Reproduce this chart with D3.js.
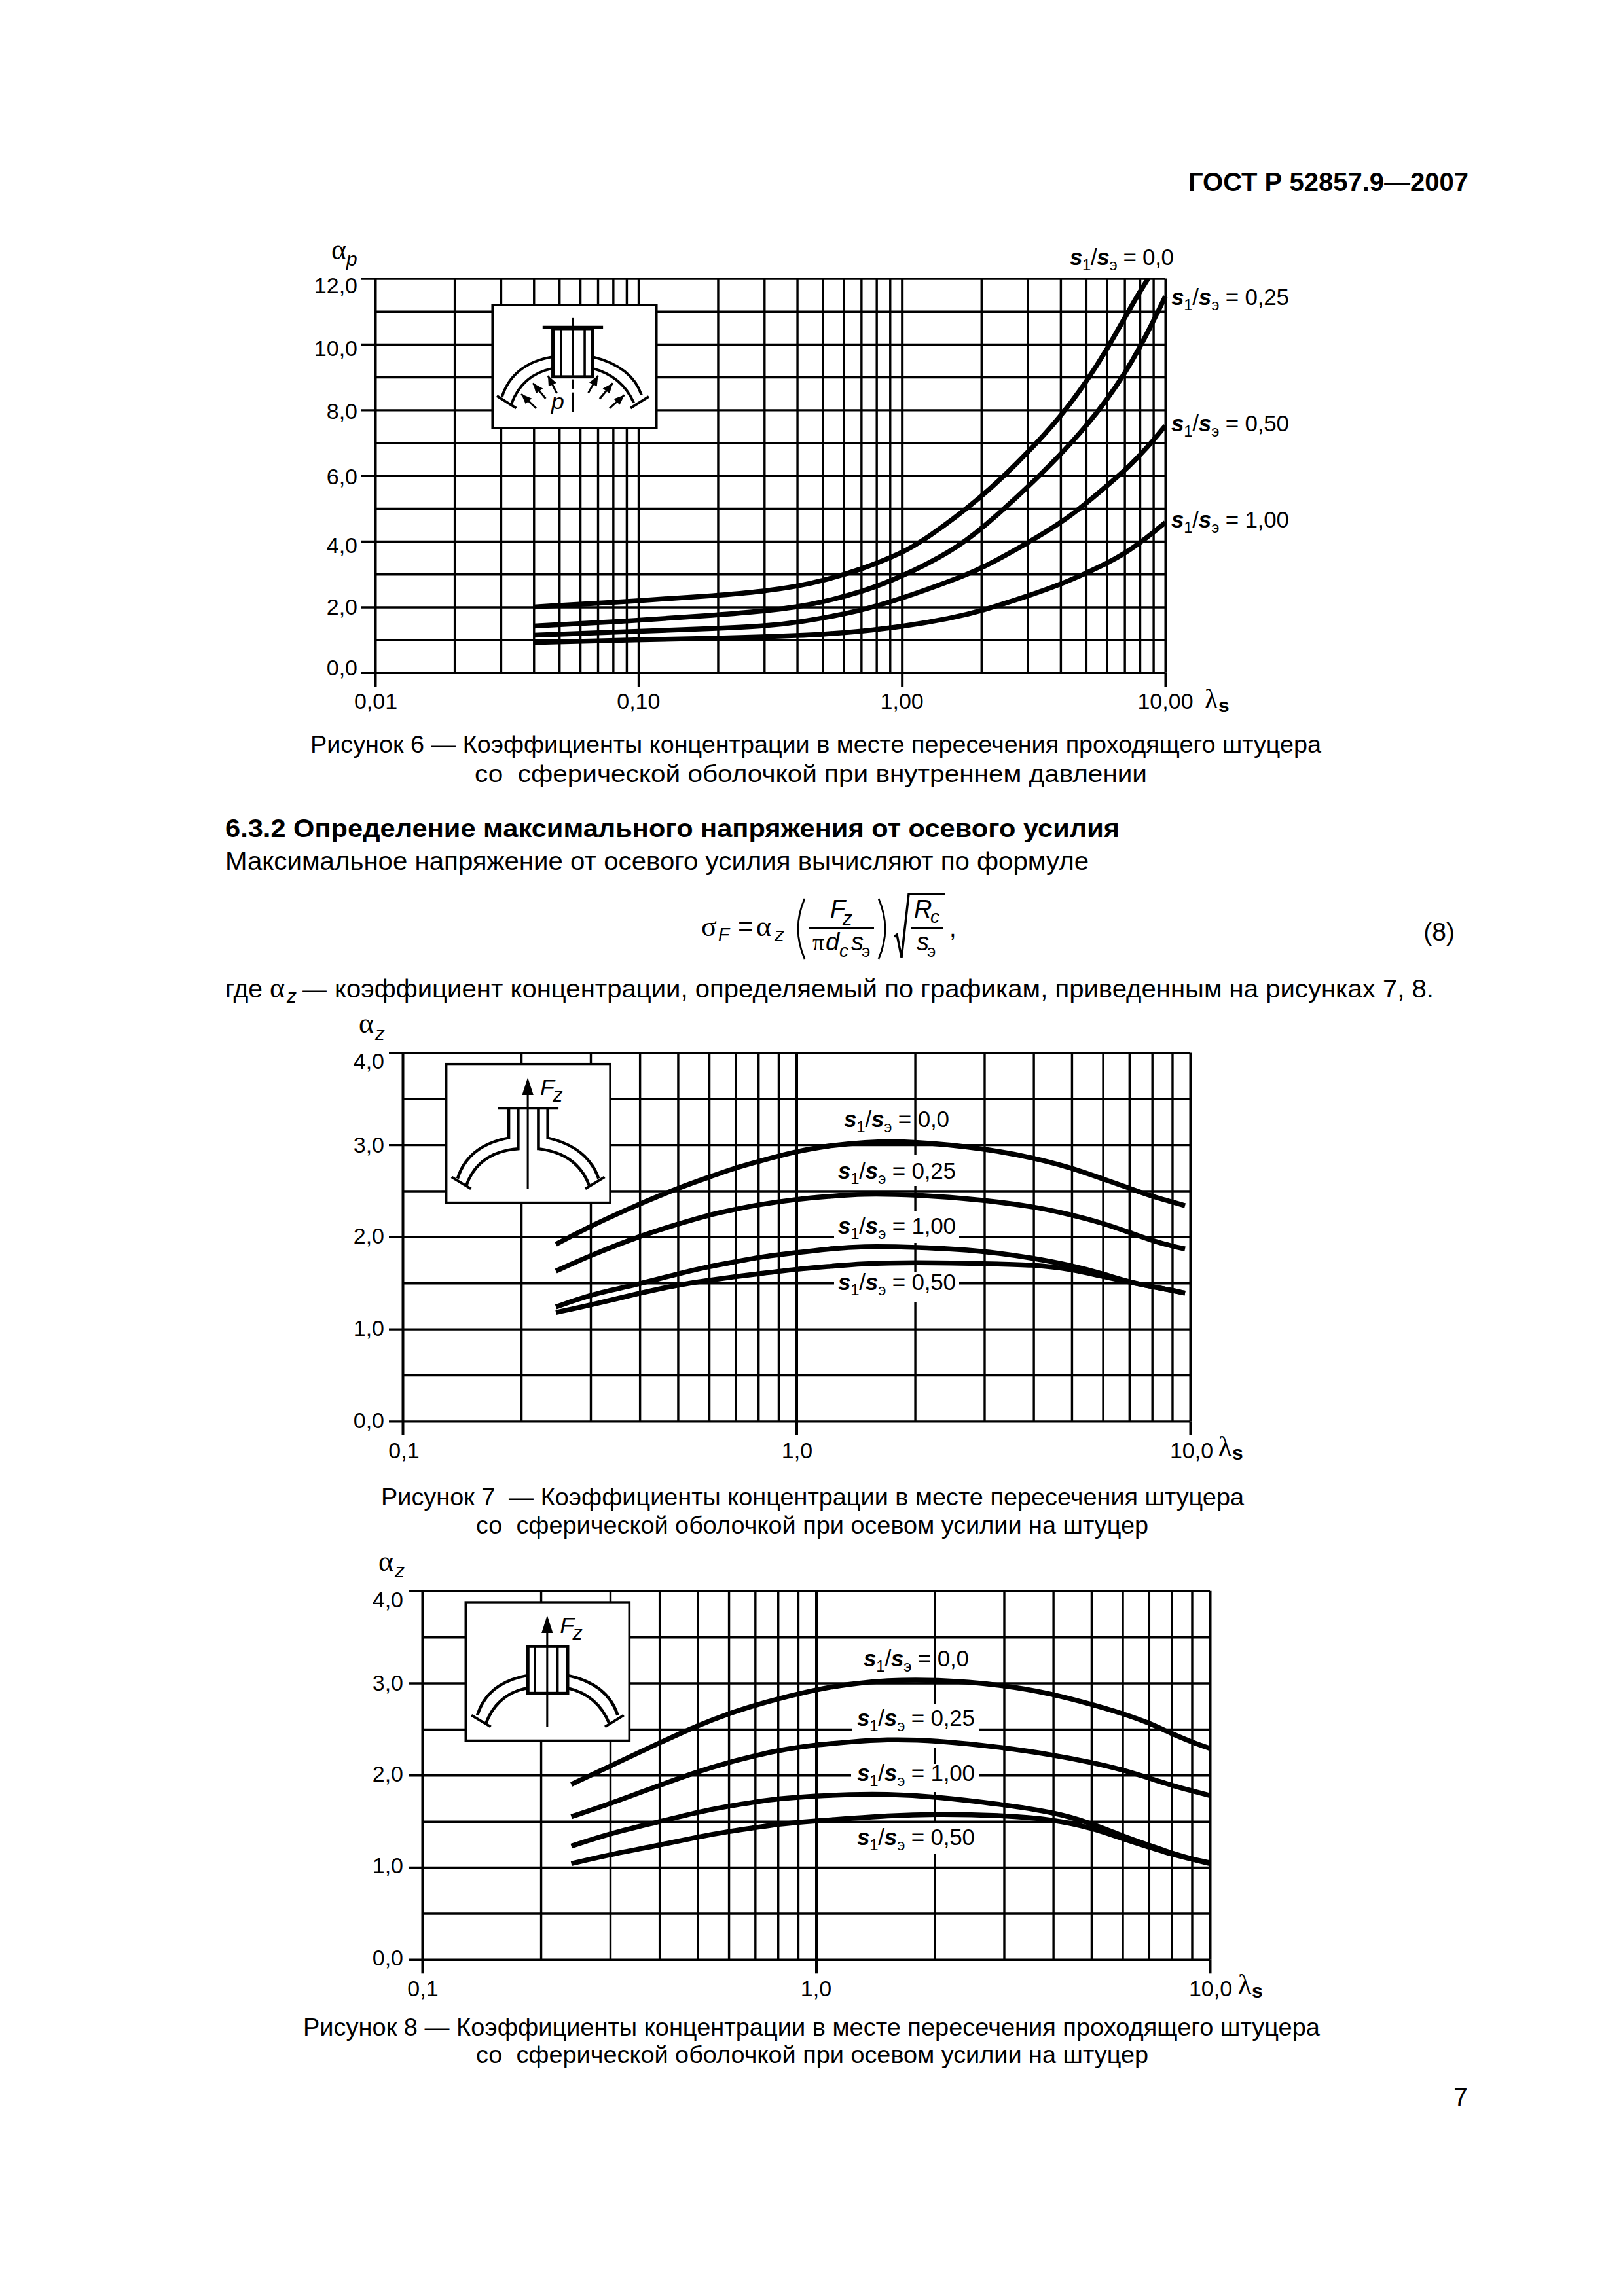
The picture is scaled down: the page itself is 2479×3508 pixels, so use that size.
<!DOCTYPE html>
<html><head><meta charset="utf-8">
<script src="https://cdn.jsdelivr.net/npm/d3@7/dist/d3.min.js"></script>
<style>html,body{margin:0;padding:0;background:#fff}svg{display:block}text{font-family:"Liberation Sans",Arial,sans-serif;fill:#000}</style>
</head><body><div id="c"></div>
<script>
// ---------- DATA ----------
const minorMultiples = [2,3,4,5,6,7,8,9];
const fig6YTicks = [0,2,4,6,8,10,12];
const fig6YMinor = [1,3,5,7,9,11];
const fig6XLabels = ["0,01","0,10","1,00","10,00"];
const fig7XLabels = ["0,1","1,0","10,0"];
const fig7YTicks = [0,1,2,3,4];
const fig7YMinor = [0.5,1.5,2.5,3.5];

const fig6Lam00 = [.04,.1,.2,.3,.4,.5,.7,1,1.22,2,3,4,5,6,7,8,8.6];
const fig6Val00 = [2.0,2.19,2.35,2.48,2.63,2.8,3.14,3.64,4.04,5.31,6.69,7.79,8.84,9.84,10.8,11.6,12];
const fig6Lam25 = [.04,.1,.2,.3,.4,.5,.7,1,1.54,2,3,4,5,6,7,8,9,10];
const fig6Val25 = [1.42,1.59,1.76,1.88,2.0,2.15,2.45,2.92,3.69,4.36,5.64,6.64,7.5,8.31,9.1,9.9,10.7,11.46];
const fig6Lam50 = [.04,.1,.2,.3,.4,.7,1,1.54,2,3,4,5,6,7,8,9,10];
const fig6Val50 = [1.14,1.26,1.35,1.42,1.52,1.88,2.26,2.8,3.16,3.95,4.55,5.15,5.69,6.15,6.62,7.07,7.52];
const fig6Lam100 = [.04,.1,.2,.3,.4,.5,.7,1,1.54,2,3,4,5,6,7,8,9,10];
const fig6Val100 = [.92,1.0,1.05,1.09,1.13,1.17,1.26,1.40,1.66,1.88,2.33,2.69,3.03,3.33,3.63,3.95,4.27,4.57];

const fig7Lam = [.245,.3,.4,.5,.6,.7,.8,1,1.21,1.46,2,3,4,5,6,7,8,9,9.7];
const fig7Val00 = [1.92,2.12,2.36,2.53,2.65,2.75,2.82,2.93,2.99,3.03,3.04,2.96,2.86,2.75,2.63,2.53,2.44,2.38,2.34];
const fig7Val25 = [1.63,1.80,2.01,2.14,2.24,2.30,2.35,2.41,2.44,2.47,2.46,2.40,2.33,2.24,2.15,2.05,1.96,1.90,1.87];
const fig7Val100 = [1.24,1.375,1.49,1.60,1.68,1.73,1.78,1.83,1.87,1.90,1.89,1.85,1.77,1.69,1.60,1.51,1.46,1.42,1.39];
const fig7Val50 = [1.18,1.26,1.39,1.48,1.53,1.57,1.60,1.65,1.68,1.71,1.725,1.71,1.70,1.65,1.57,1.51,1.46,1.42,1.39];

const fig8Lam = [.239,.3,.4,.5,.6,.7,.8,1,1.21,1.5,2,3,4,5,6,7,8,9,10];
const fig8Val00 = [1.90,2.10,2.35,2.54,2.67,2.76,2.83,2.93,2.99,3.03,3.04,2.98,2.88,2.77,2.67,2.57,2.45,2.36,2.29];
const fig8Val25 = [1.55,1.69,1.89,2.04,2.14,2.21,2.27,2.33,2.36,2.39,2.38,2.30,2.22,2.14,2.06,1.97,1.89,1.83,1.78];
const fig8Val100 = [1.23,1.37,1.495,1.60,1.665,1.71,1.745,1.775,1.79,1.795,1.77,1.68,1.60,1.48,1.34,1.24,1.155,1.09,1.05];
const fig8Val50 = [1.04,1.14,1.24,1.33,1.39,1.43,1.47,1.505,1.53,1.56,1.58,1.565,1.52,1.43,1.31,1.22,1.14,1.09,1.04];

const ratioLabels = ["0,0","0,25","0,50","1,00"];

// ---------- PAGE ----------
const W=2479,H=3508;
const svg=d3.select("#c").append("svg").attr("width",W).attr("height",H).attr("viewBox",`0 0 ${W} ${H}`);
svg.append("rect").attr("width",W).attr("height",H).attr("fill","#fff");
const SERIF='"Liberation Serif",serif';
const CURVE=7.5, GRID=3.4;

function T(g,x,y,s,o={}){
  const t=g.append("text").attr("x",x).attr("y",y).text(s)
    .attr("font-size",o.size||34).attr("text-anchor",o.anchor||"start");
  if(o.weight)t.attr("font-weight",o.weight);
  if(o.italic)t.attr("font-style","italic");
  if(o.family)t.style("font-family",o.family);
  if(o.len)t.attr("textLength",o.len).attr("lengthAdjust","spacingAndGlyphs");
  return t;
}
function ratio(g,x,y,val,o={}){
  const size=o.size||35;
  const t=g.append("text").attr("x",x).attr("y",y).attr("font-size",size);
  const sp=(s,a={})=>{const q=t.append("tspan").text(s);
    if(a.i)q.attr("font-style","italic").attr("font-weight","bold");
    if(a.sub)q.attr("font-size",size*0.68).attr("dy",a.sub);return q;};
  sp("s",{i:1}); sp("1",{sub:size*0.24}); sp("/",{sub:-size*0.24}).attr("font-size",size);
  sp("s",{i:1}); sp("э",{sub:size*0.24}); sp(" = "+val,{sub:-size*0.24}).attr("font-size",size);
  if(o.len)t.attr("textLength",o.len).attr("lengthAdjust","spacing");
  return t;
}
function chart(cfg){
  const g=svg.append("g");
  const x=d3.scaleLog().domain(cfg.xDomain).range([cfg.left,cfg.right]);
  const y=d3.scaleLinear().domain(cfg.yDomain).range([cfg.bottom,cfg.top]);
  const h=cfg.bottom-cfg.top,w=cfg.right-cfg.left;
  const decades=[];
  for(let d=cfg.xDomain[0];d<=cfg.xDomain[1]*1.001;d*=10)decades.push(d);
  const minors=[];
  decades.slice(0,-1).forEach(d=>minorMultiples.forEach(m=>minors.push(d*m)));
  const grid=g.append("g");
  const ax=(sel,gen,sw)=>{sel.call(gen);sel.select(".domain").remove();
    sel.selectAll("line").attr("stroke","#000").attr("stroke-width",sw);sel.selectAll("text").remove();};
  grid.append("g").attr("transform",`translate(0,${cfg.bottom})`)
    .call(s=>ax(s,d3.axisBottom(x).tickValues(minors).tickSize(-h).tickFormat(""),GRID));
  grid.append("g").attr("transform",`translate(0,${cfg.bottom})`)
    .call(s=>ax(s,d3.axisBottom(x).tickValues(decades).tickSize(-h).tickFormat(""),GRID+.6));
  grid.append("g").attr("transform",`translate(0,${cfg.bottom})`)
    .call(s=>ax(s,d3.axisBottom(x).tickValues(decades).tickSize(cfg.tickDown).tickFormat(""),GRID+.6));
  grid.append("g").attr("transform",`translate(${cfg.right},0)`)
    .call(s=>ax(s,d3.axisLeft(y).tickValues(cfg.yMinor).tickSize(w).tickFormat(""),GRID));
  grid.append("g").attr("transform",`translate(${cfg.right},0)`)
    .call(s=>ax(s,d3.axisLeft(y).tickValues(cfg.yTicks).tickSize(cfg.right-cfg.tickLeft).tickFormat(""),GRID));
  cfg.yTicks.forEach((v,i)=>{
    T(g,cfg.yLabelRight,y(v)+cfg.yLabelDy[i],cfg.yFmt(v),{anchor:"end"});
  });
  decades.forEach((d,i)=>{
    T(g,x(d)+(cfg.xLabelDx?cfg.xLabelDx[i]:0),cfg.xLabelY,cfg.xLabels[i],{anchor:"middle"});
  });
  return {g,x,y};
}
function series(c,lam,val){
  const line=d3.line().x(d=>c.x(d[0])).y(d=>c.y(d[1])).curve(d3.curveBasis);
  c.g.append("path").attr("d",line(d3.zip(lam,val))).attr("fill","none").attr("stroke","#000").attr("stroke-width",CURVE);
}
function halo(c,x0,x1,y0,y1){c.g.append("rect").attr("x",x0).attr("y",y0).attr("width",x1-x0).attr("height",y1-y0).attr("fill","#fff");}
function alpha(g,x,y,sub,xs,ys){
  T(g,x,y,"α",{size:44,family:SERIF});
  T(g,xs,ys,sub,{size:30,italic:true});
}
function lambda(g,x,y){
  T(g,x,y,"λ",{size:42,family:SERIF});
  T(g,x+21,y+6,"s",{size:30,weight:"bold"});
}
const fmtC=v=>v.toFixed(1).replace(".",",");

// ---------- FIG 6 ----------
const c6=chart({xDomain:[0.01,10],yDomain:[0,12],left:573,right:1780,top:425.6,bottom:1027.8,
  yTicks:fig6YTicks,yMinor:fig6YMinor,tickDown:21.5,tickLeft:551,
  yLabelRight:546,yLabelDy:[4,12,18,13.4,14,17.7,22.5],yFmt:fmtC,
  xLabels:fig6XLabels,xLabelY:1083,xLabelDx:[1,0,0,0]});
[[fig6Lam00,fig6Val00],[fig6Lam25,fig6Val25],[fig6Lam50,fig6Val50],[fig6Lam100,fig6Val100]].forEach(s=>series(c6,s[0],s[1]));
alpha(c6.g,506,396,"p",529,406);
lambda(c6.g,1840,1082);
ratio(c6.g,1634,405,ratioLabels[0],{len:159});
ratio(c6.g,1789,466,ratioLabels[1],{len:180});
ratio(c6.g,1789,658.5,ratioLabels[2],{len:180});
ratio(c6.g,1789,806,ratioLabels[3],{len:180});

// ---------- FIG 7 ----------
const c7=chart({xDomain:[0.1,10],yDomain:[0,4],left:615,right:1818,top:1608.4,bottom:2171.4,
  yTicks:fig7YTicks,yMinor:fig7YMinor,tickDown:21.5,tickLeft:594,
  yLabelRight:587,yLabelDy:[10.5,10.5,10.5,11.5,25],yFmt:fmtC,
  xLabels:fig7XLabels,xLabelY:2228,xLabelDx:[2,1,2]});
halo(c7,1276,1463,1765,1812);halo(c7,1274,1465,1851,1899);halo(c7,1274,1465,1944,1990);
[fig7Val00,fig7Val25,fig7Val100,fig7Val50].forEach(v=>series(c7,fig7Lam,v));
alpha(c7.g,548,1578,"z",573,1589);
lambda(c7.g,1861,2224);
ratio(c7.g,1289,1722,ratioLabels[0],{len:161});
ratio(c7.g,1280,1801,ratioLabels[1],{len:180});
ratio(c7.g,1280,1885,ratioLabels[3],{len:180});
ratio(c7.g,1280,1971,ratioLabels[2],{len:180});

// ---------- FIG 8 ----------
const c8=chart({xDomain:[0.1,10],yDomain:[0,4],left:645,right:1848,top:2430.8,bottom:2993.8,
  yTicks:fig7YTicks,yMinor:fig7YMinor,tickDown:21.5,tickLeft:624,
  yLabelRight:616,yLabelDy:[9.5,8.6,10,11,25],yFmt:fmtC,
  xLabels:fig7XLabels,xLabelY:3050,xLabelDx:[1,0,1]});
halo(c8,1301,1495,2604,2671);halo(c8,1300,1496,2695,2738);halo(c8,1309,1490,2786,2833);
[fig8Val00,fig8Val25,fig8Val100,fig8Val50].forEach(v=>series(c8,fig8Lam,v));
alpha(c8.g,578,2400,"z",603,2410);
lambda(c8.g,1891,3046);
ratio(c8.g,1319,2546,ratioLabels[0],{len:161});
ratio(c8.g,1309,2637,ratioLabels[1],{len:180});
ratio(c8.g,1309,2721,ratioLabels[3],{len:180});
ratio(c8.g,1309,2819,ratioLabels[2],{len:180});

// ---------- INSETS (schematics) ----------
function inset(ox,oy,box){
  const g=svg.append("g").attr("transform",`translate(${ox},${oy}) scale(${1/1.96},${1/2.0907})`)
    .attr("fill","none").attr("stroke","#000");
  g.append("rect").attr("x",box[0]).attr("y",box[1]).attr("width",box[2]-box[0]).attr("height",box[3]-box[1])
    .attr("fill","#fff").attr("stroke-width",7);
  return g;
}
const L=(g,a,b,c,d,w)=>g.append("line").attr("x1",a).attr("y1",b).attr("x2",c).attr("y2",d).attr("stroke-width",w).attr("stroke","#000");
const P=(g,d,w)=>g.append("path").attr("d",d).attr("stroke-width",w);
function arrow(g,x1,y1,x2,y2){
  L(g,x1,y1,x2,y2,6);
  const a=Math.atan2(y2-y1,x2-x1),l=32,s=13;
  const bx=x2-l*Math.cos(a),by=y2-l*Math.sin(a);
  g.append("path").attr("fill","#000").attr("stroke","none")
   .attr("d",`M${x2},${y2}L${bx-s*Math.sin(a)},${by+s*Math.cos(a)}L${bx+s*Math.sin(a)},${by-s*Math.cos(a)}Z`);
}
{ const g=inset(440,350,[612,242,1103,636]);
  L(g,762,314,943,314,10);L(g,853,284,853,468,6);L(g,853,480,853,510,6);L(g,853,522,853,584,6);
  g.append("rect").attr("x",793).attr("y",318).attr("width",119).attr("height",154).attr("stroke-width",10);
  L(g,817,318,817,470,7);L(g,888,318,888,470,7);
  P(g,"M792,408Q672,430 640,537",8);P(g,"M792,445Q700,465 668,560",8);L(g,625,533,683,572,8);
  P(g,"M912,408Q1030,440 1058,530",8);P(g,"M912,445Q1000,470 1035,555",8);L(g,1080,535,1025,572,8);
  arrow(g,743,573,698,527);arrow(g,771,541,733,492);arrow(g,805,525,778,468);
  arrow(g,899,523,928,468);arrow(g,933,542,972,492);arrow(g,962,573,1007,530);
  T(g,788,574,"p",{size:70,italic:true}).attr("stroke","none");
}
function fzArrow(g,x,head,tail){
  L(g,x,tail,x,head+40,6);
  g.append("path").attr("fill","#000").attr("stroke","none").attr("d",`M${x},${head}L${x+17},${head+56}L${x-17},${head+56}Z`);
}
{ const g=inset(500,1540,[356,179,847,622]);
  L(g,510,320,692,320,9);fzArrow(g,600,222,578);
  P(g,"M543,320V415Q420,440 390,545",9);P(g,"M571,320V450Q450,460 415,570",9);L(g,372,540,430,578,8);
  P(g,"M660,320V415Q780,445 812,545",9);P(g,"M632,320V450Q750,465 785,570",9);L(g,830,540,772,578,8);
  T(g,637,278,"F",{size:70,italic:true}).attr("stroke","none");
  T(g,675,300,"z",{size:60,italic:true}).attr("stroke","none");
}
{ const g=inset(520,2360,[375,184,865,626]);
  P(g,"M561,418Q440,440 410,545",9);P(g,"M561,458Q470,475 435,572",9);L(g,392,545,450,582,8);
  P(g,"M680,418Q800,445 830,545",9);P(g,"M680,458Q770,480 805,572",9);L(g,848,545,792,582,8);
  g.append("rect").attr("x",561).attr("y",325).attr("width",119).attr("height",150).attr("fill","#fff").attr("stroke-width",10);
  L(g,582,325,582,475,7);L(g,650,325,650,475,7);
  fzArrow(g,619,226,582);
  T(g,657,282,"F",{size:70,italic:true}).attr("stroke","none");
  T(g,695,304,"z",{size:60,italic:true}).attr("stroke","none");
}

// ---------- PAGE TEXT ----------
const p=svg.append("g");
T(p,2243,292,"ГОСТ Р 52857.9—2007",{size:40,weight:"bold",anchor:"end"});
T(p,474,1150,"Рисунок 6 — Коэффициенты концентрации в месте пересечения проходящего штуцера",{size:37,len:1544});
T(p,725,1195,"со  сферической оболочкой при внутреннем давлении",{size:37,len:1027}).style("white-space","pre");
T(p,344,1279,"6.3.2 Определение максимального напряжения от осевого усилия",{size:39,weight:"bold",len:1366});
T(p,344,1329,"Максимальное напряжение от осевого усилия вычисляют по формуле",{size:39,len:1319});
T(p,2222,1437,"(8)",{size:39,anchor:"end"});
// formula
const f=svg.append("g");
T(f,1071,1430,"σ",{size:44,family:SERIF});T(f,1097,1437,"F",{size:28,italic:true});
T(f,1127,1429,"=",{size:40});T(f,1155,1430,"α",{size:44,family:SERIF});T(f,1183,1438,"z",{size:30,italic:true});
f.append("path").attr("d","M1229,1373Q1209,1419 1229,1465M1342,1373Q1362,1419 1342,1465").attr("fill","none").attr("stroke","#000").attr("stroke-width",2.8);
T(f,1268,1402,"F",{size:38,italic:true});T(f,1287,1413,"z",{size:30,italic:true});
L(f,1235,1418,1335,1418,4);
T(f,1241,1452,"π",{size:36,family:SERIF});T(f,1261,1452,"d",{size:38,italic:true});T(f,1282,1462,"c",{size:28,italic:true});
T(f,1300,1452,"s",{size:38,italic:true});T(f,1316,1462,"э",{size:26});
f.append("path").attr("d","M1366,1431L1370,1428L1377,1463L1388,1366H1444").attr("fill","none").attr("stroke","#000").attr("stroke-width",3.5);
T(f,1396,1402,"R",{size:38,italic:true});T(f,1421,1410,"c",{size:28,italic:true});
L(f,1392,1418,1441,1418,4);
T(f,1400,1452,"s",{size:38,italic:true});T(f,1416,1462,"э",{size:26});
T(f,1450,1431,",",{size:38});
// "где" line
T(p,344,1524,"где",{size:39});
T(p,412,1524,"α",{size:44,family:SERIF});T(p,438,1532,"z",{size:30,italic:true});
T(p,462,1524,"—",{size:37});
T(p,511,1524,"коэффициент концентрации, определяемый по графикам, приведенным на рисунках 7, 8.",{size:39,len:1679});
T(p,582,2300,"Рисунок 7  — Коэффициенты концентрации в месте пересечения штуцера",{size:37,len:1318}).style("white-space","pre");
T(p,727,2343,"со  сферической оболочкой при осевом усилии на штуцер",{size:37,len:1027}).style("white-space","pre");
T(p,463,3110,"Рисунок 8 — Коэффициенты концентрации в месте пересечения проходящего штуцера",{size:37,len:1553});
T(p,727,3152,"со  сферической оболочкой при осевом усилии на штуцер",{size:37,len:1027}).style("white-space","pre");
T(p,2242,3217,"7",{size:39,anchor:"end"});
</script></body></html>
